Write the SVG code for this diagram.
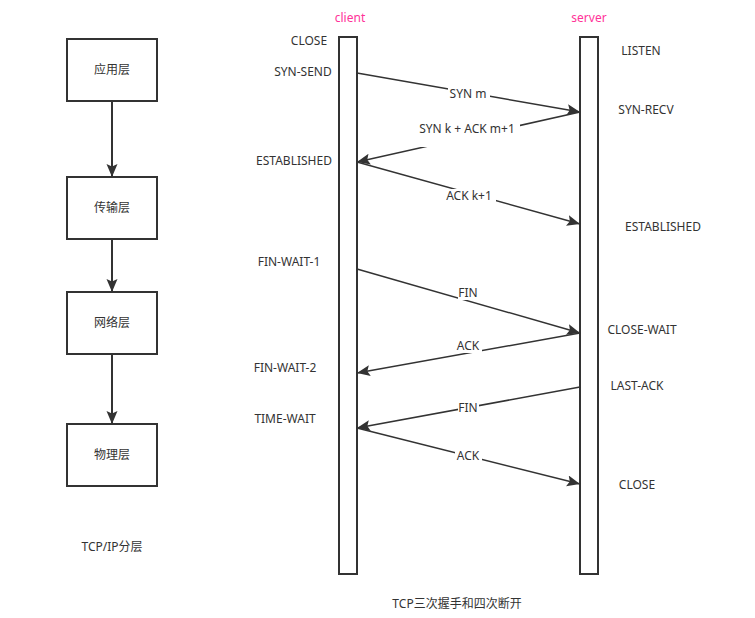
<svg xmlns="http://www.w3.org/2000/svg" width="755" height="618" viewBox="0 0 755 618">
<style>
.box{fill:#fff;stroke:#333;stroke-width:2}
.life{fill:#fff;stroke:#333;stroke-width:2}
.t{font-family:"Segoe UI","Noto Sans","Liberation Sans","Noto Sans CJK SC",sans-serif;font-size:12px;fill:#333;text-anchor:middle}
.pink{fill:#FF3399}
.ln{stroke:#333;stroke-width:1.5;fill:none}
.vl{stroke:#333;stroke-width:2;fill:none}
.bg{fill:#fff}
</style>
<defs>
<marker id="ah" markerUnits="userSpaceOnUse" markerWidth="14" markerHeight="12" refX="13" refY="5.5" orient="auto">
<path d="M0,0 L13,5.5 L0,11 L2.5,5.5 z" fill="#333"/>
</marker>
</defs>
<rect width="755" height="618" fill="#fff"/>

<g id="layer-app"><rect class="box" x="67" y="39" width="90" height="62"/><text class="t" x="112" y="74">应用层</text></g>
<g id="layer-transport"><rect class="box" x="67" y="177" width="90" height="62"/><text class="t" x="112" y="212">传输层</text></g>
<g id="layer-network"><rect class="box" x="67" y="292" width="90" height="62"/><text class="t" x="112" y="327">网络层</text></g>
<g id="layer-physical"><rect class="box" x="67" y="424" width="90" height="62"/><text class="t" x="112" y="459">物理层</text></g>
<g id="caption-left"><text class="t" x="112" y="551">TCP/IP分层</text></g>

<g id="client"><text class="t pink" x="350" y="22">client</text><rect class="life" x="339" y="37" width="18" height="537"/></g>
<g id="server"><text class="t pink" x="589" y="22">server</text><rect class="life" x="580" y="37" width="18" height="537"/></g>

<g id="client-states">
<text class="t" x="309" y="45">CLOSE</text>
<text class="t" x="303" y="76">SYN-SEND</text>
<text class="t" x="294" y="165">ESTABLISHED</text>
<text class="t" x="289" y="266">FIN-WAIT-1</text>
<text class="t" x="285" y="372">FIN-WAIT-2</text>
<text class="t" x="285" y="423">TIME-WAIT</text>
</g>
<g id="server-states">
<text class="t" x="641" y="55">LISTEN</text>
<text class="t" x="646" y="114">SYN-RECV</text>
<text class="t" x="663" y="231">ESTABLISHED</text>
<text class="t" x="642" y="334">CLOSE-WAIT</text>
<text class="t" x="637" y="390">LAST-ACK</text>
<text class="t" x="637" y="489">CLOSE</text>
</g>

<g id="connectors">
<line class="vl" x1="112" y1="101" x2="112" y2="177" marker-end="url(#ah)"/>
<line class="vl" x1="112" y1="239" x2="112" y2="292" marker-end="url(#ah)"/>
<line class="vl" x1="112" y1="354" x2="112" y2="424" marker-end="url(#ah)"/>

<line class="ln" x1="357" y1="73" x2="580" y2="112" marker-end="url(#ah)"/>
<line class="ln" x1="580" y1="112" x2="357" y2="162" marker-end="url(#ah)"/>
<line class="ln" x1="357" y1="162" x2="580" y2="224" marker-end="url(#ah)"/>
<line class="ln" x1="357" y1="269" x2="580" y2="333" marker-end="url(#ah)"/>
<line class="ln" x1="580" y1="333" x2="357" y2="373" marker-end="url(#ah)"/>
<line class="ln" x1="580" y1="387" x2="357" y2="428" marker-end="url(#ah)"/>
<line class="ln" x1="357" y1="428" x2="580" y2="484" marker-end="url(#ah)"/>

<rect class="bg" x="448" y="87" width="42" height="14"/>
<text class="t" x="468" y="98">SYN m</text>
<rect class="bg" x="415" y="122" width="105" height="25"/>
<text class="t" x="467" y="133">SYN k + ACK m+1</text>
<rect class="bg" x="443" y="189" width="53" height="14"/>
<text class="t" x="469" y="200">ACK k+1</text>
<rect class="bg" x="458" y="286" width="21" height="14"/>
<text class="t" x="468" y="297">FIN</text>
<rect class="bg" x="455" y="339" width="27" height="14"/>
<text class="t" x="468" y="350">ACK</text>
<rect class="bg" x="458" y="401" width="21" height="14"/>
<text class="t" x="468" y="412">FIN</text>
<rect class="bg" x="455" y="449" width="27" height="14"/>
<text class="t" x="468" y="460">ACK</text>
</g>

<g id="caption-right"><text class="t" x="457" y="608">TCP三次握手和四次断开</text></g>
</svg>
